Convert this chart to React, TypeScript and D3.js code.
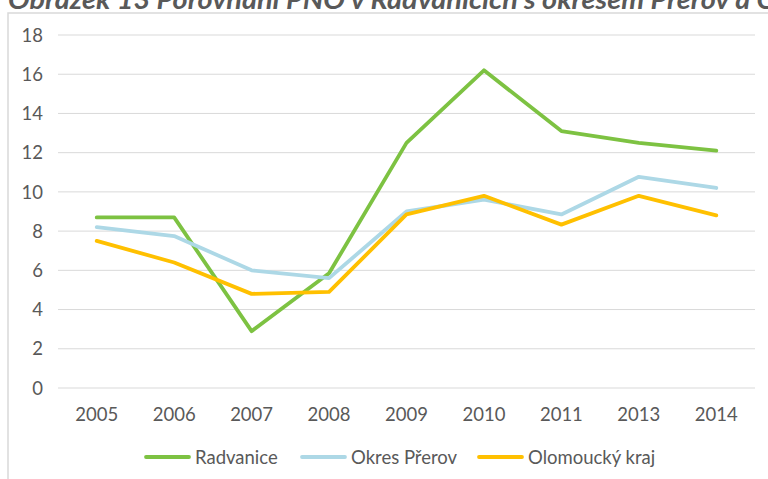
import React from "react";
import * as d3 from "d3";

const years = ["2005", "2006", "2007", "2008", "2009", "2010", "2011", "2013", "2014"];
const radvanice = [8.7, 8.7, 2.9, 5.85, 12.5, 16.2, 13.1, 12.5, 12.1];
const okresPrerov = [8.2, 7.75, 6.0, 5.6, 9.0, 9.6, 8.85, 10.77, 10.2];
const olomouckyKraj = [7.5, 6.4, 4.8, 4.9, 8.85, 9.8, 8.33, 9.8, 8.8];
const yTicks = [0, 2, 4, 6, 8, 10, 12, 14, 16, 18];
const seriesNames = ["Radvanice", "Okres Přerov", "Olomoucký kraj"];
const seriesColors = ["#7DC242", "#ADD8E6", "#FFC000"];
const titlePrefix = "Obrázek 13 Porovnání PNO v Radvanicích s okresem Přerov a O";
const titleRest = "lomouckým krajem";

const W = 768;
const H = 479;
const FONT = "Lato, 'Open Sans', sans-serif";

export default function App() {
  const x = d3.scaleBand<string>().domain(years).range([58, 755]);
  const y = d3.scaleLinear().domain([0, 18]).range([388, 35]);
  const line = d3
    .line<number>()
    .x((_, i) => (x(years[i]) as number) + x.bandwidth() / 2)
    .y((d) => y(d));
  const series = [radvanice, okresPrerov, olomouckyKraj];
  const legendX = [146, 302, 479];

  return (
    <svg
      width={W}
      height={H}
      style={{ position: "absolute", left: 0, top: 0, background: "#fff" }}
      fontFamily={FONT}
    >
      <text y={9} fontSize={27} fontWeight="bold" fontStyle="italic" fill="#595959">
        <tspan x={8} textLength={770} lengthAdjust="spacingAndGlyphs">
          {titlePrefix}
        </tspan>
        <tspan>{titleRest}</tspan>
      </text>
      <path d={`M8,${H} V13 H${W + 5}`} fill="none" stroke="#D9D9D9" strokeWidth={1.5} />
      {yTicks.map((t) => (
        <g key={t}>
          <line x1={58} x2={755} y1={y(t)} y2={y(t)} stroke="#D9D9D9" strokeWidth={1} />
          <text x={43} y={y(t)} dy="0.36em" textAnchor="end" fontSize={18.5} fill="#595959">
            {t}
          </text>
        </g>
      ))}
      {years.map((yr) => (
        <text
          key={yr}
          x={(x(yr) as number) + x.bandwidth() / 2}
          y={414}
          dy="0.36em"
          textAnchor="middle"
          fontSize={18.5}
          fill="#595959"
        >
          {yr}
        </text>
      ))}
      {series.map((s, i) => (
        <path
          key={seriesNames[i]}
          d={line(s) as string}
          fill="none"
          stroke={seriesColors[i]}
          strokeWidth={3.8}
          strokeLinejoin="round"
          strokeLinecap="round"
        />
      ))}
      {seriesNames.map((n, i) => (
        <g key={n}>
          <line
            x1={legendX[i]}
            x2={legendX[i] + 43}
            y1={457}
            y2={457}
            stroke={seriesColors[i]}
            strokeWidth={3.8}
            strokeLinecap="round"
          />
          <text x={legendX[i] + 49} y={457} dy="0.36em" fontSize={18.5} fill="#595959">
            {n}
          </text>
        </g>
      ))}
    </svg>
  );
}
